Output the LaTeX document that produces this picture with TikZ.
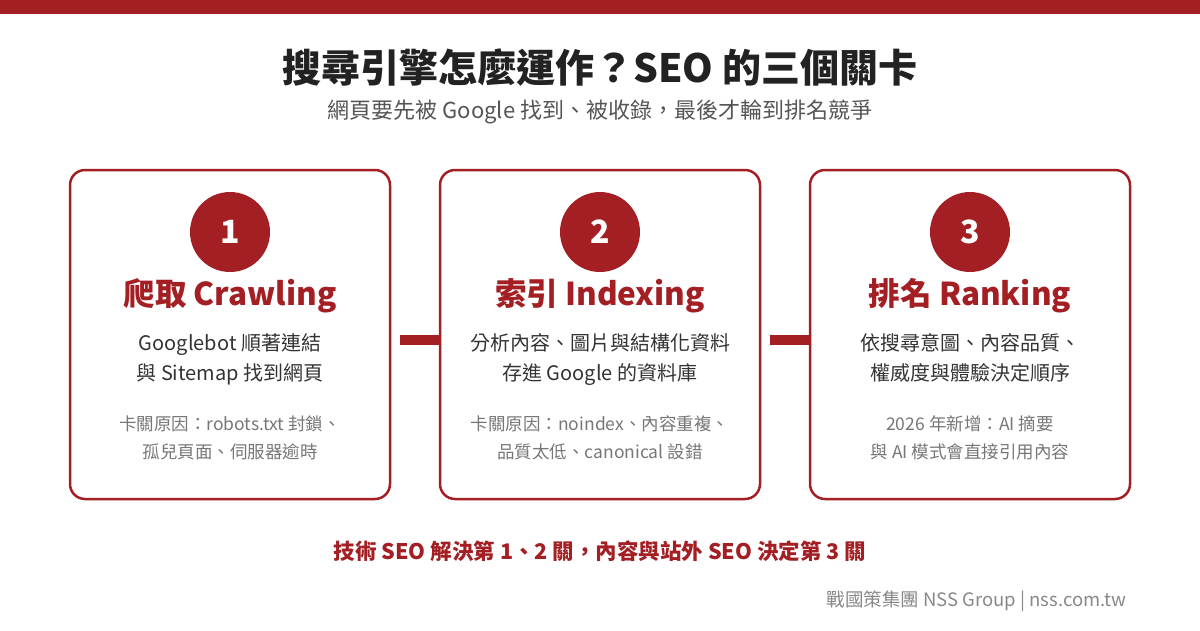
\documentclass[tikz,border=0pt]{standalone}
\usepackage{fontspec}
\setmainfont{Noto Sans CJK TC}
\definecolor{nssred}{HTML}{A31F24}
\definecolor{darktxt}{HTML}{222222}
\definecolor{midtxt}{HTML}{333333}
\definecolor{subtxt}{HTML}{555555}
\definecolor{graytxt}{HTML}{777777}
\definecolor{foottxt}{HTML}{888888}
\tikzset{
  stagebox/.style={draw=nssred, line width=2.5pt, rounded corners=15pt, fill=white, minimum width=320pt, minimum height=329pt, inner sep=0pt},
  numcircle/.style={circle, fill=nssred, minimum size=80pt, inner sep=0pt, text=white, font=\fontsize{32}{36}\selectfont\bfseries},
  stagehead/.style={text=nssred, font=\fontsize{31.5}{36}\selectfont\bfseries, anchor=base},
  desc/.style={text=midtxt, font=\fontsize{20}{30}\selectfont, align=center, anchor=base},
  note/.style={text=graytxt, font=\fontsize{17.5}{28}\selectfont, align=center, anchor=base},
  linkbar/.style={draw=nssred, line width=10pt},
}
\begin{document}
\begin{tikzpicture}[x=1pt,y=-1pt]
\useasboundingbox (0,0) rectangle (1200,630);
\fill[white] (0,0) rectangle (1200,630);
\fill[nssred] (0,0) rectangle (1200,14);
\node[text=darktxt, font=\fontsize{39}{44}\selectfont\bfseries, anchor=base] (title) at (600,82) {搜尋引擎怎麼運作？SEO 的三個關卡};
\node[text=subtxt, font=\fontsize{22}{26}\selectfont, anchor=base] (subtitle) at (600,118) {網頁要先被 Google 找到、被收錄，最後才輪到排名競爭};
% boxes
\node[stagebox] (b1) at (230,334.5) {};
\node[stagebox] (b2) at (600,334.5) {};
\node[stagebox] (b3) at (970,334.5) {};
\coordinate (l1) at (400,340);
\coordinate (l2) at (770,340);
\draw[linkbar] (l1) -- (b2.west |- l1);
\draw[linkbar] (l2) -- (b3.west |- l2);
% stage 1
\node[numcircle] (c1) at (230,232) {1};
\node[stagehead] (h1) at (230,305) {爬取 Crawling};
\node[desc] (d1) at (230,380) {Googlebot 順著連結\\與 Sitemap 找到網頁};
\node[note] (n1) at (230,458) {卡關原因：robots.txt 封鎖、\\孤兒頁面、伺服器逾時};
% stage 2
\node[numcircle] (c2) at (600,232) {2};
\node[stagehead] (h2) at (600,305) {索引 Indexing};
\node[desc] (d2) at (600,380) {分析內容、圖片與結構化資料\\存進 Google 的資料庫};
\node[note] (n2) at (600,458) {卡關原因：noindex、內容重複、\\品質太低、canonical 設錯};
% stage 3
\node[numcircle] (c3) at (970,232) {3};
\node[stagehead] (h3) at (970,305) {排名 Ranking};
\node[desc] (d3) at (970,380) {依搜尋意圖、內容品質、\\權威度與體驗決定順序};
\node[note] (n3) at (970,458) {2026 年新增：AI 摘要\\與 AI 模式會直接引用內容};
% bottom
\node[text=nssred, font=\fontsize{21.5}{26}\selectfont\bfseries, anchor=base] (summary) at (600,559) {技術 SEO 解決第 1、2 關，內容與站外 SEO 決定第 3 關};
\node[text=foottxt, font=\fontsize{18.5}{22}\selectfont, anchor=base east] (footer) at (1130,606) {戰國策集團 NSS Group | nss.com.tw};
\end{tikzpicture}
\end{document}
